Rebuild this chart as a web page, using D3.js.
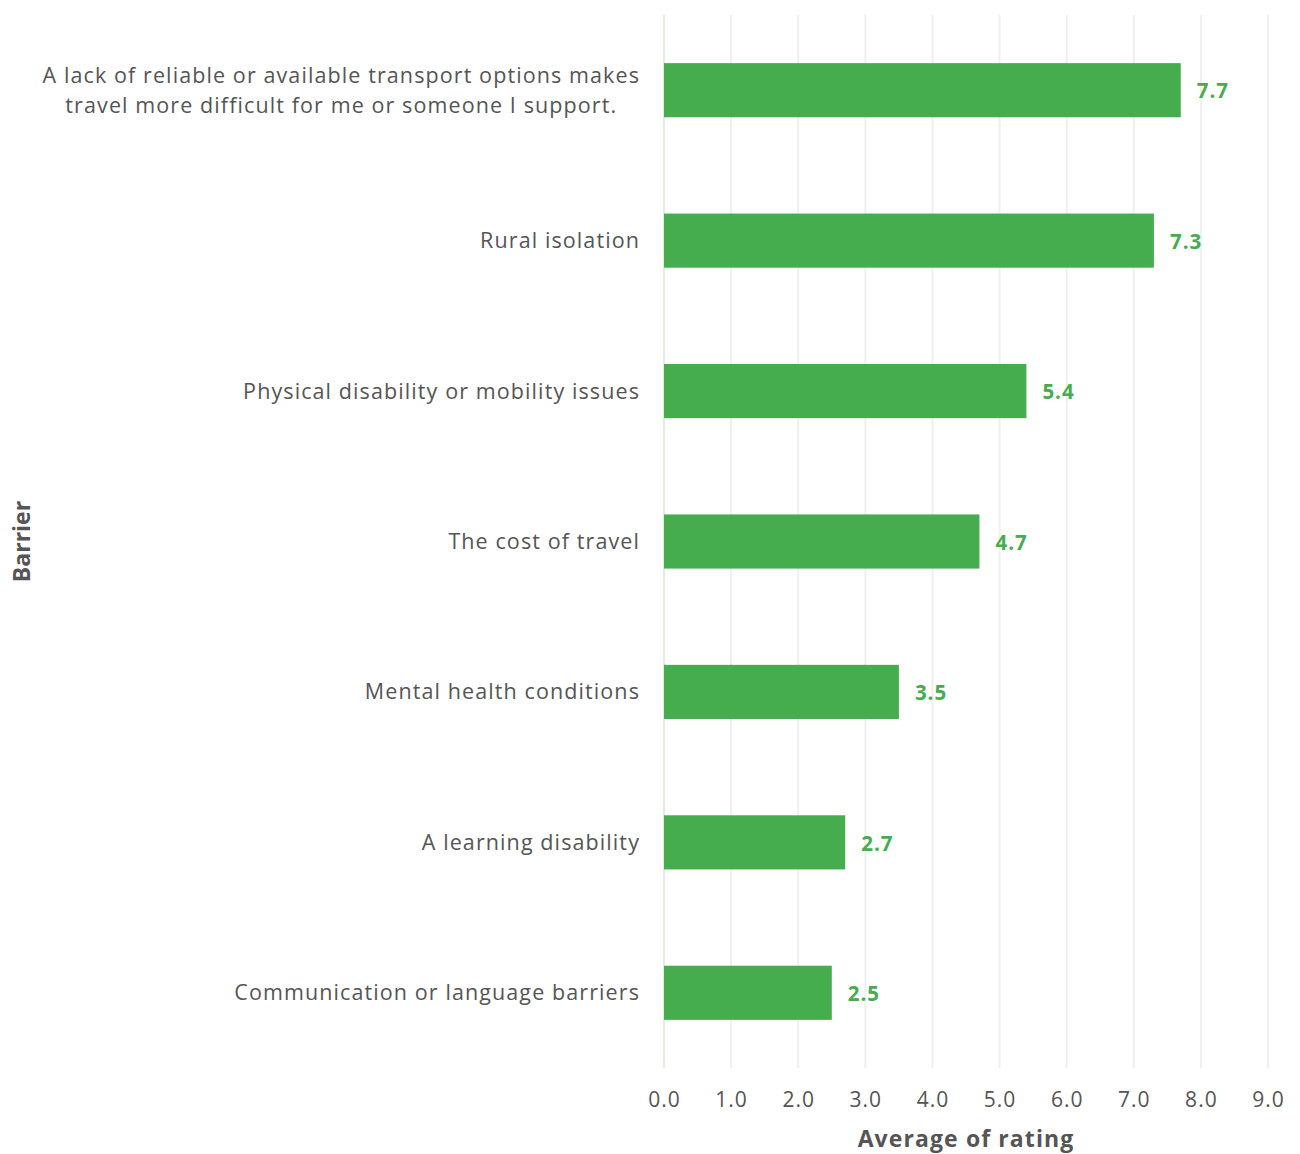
<!DOCTYPE html>
<html>
<head>
<meta charset="utf-8">
<script src="https://cdn.jsdelivr.net/npm/d3@7"></script>
<style>
  html, body { margin: 0; padding: 0; background: #fff; }
  svg { display: block; font-family: "Open Sans", Lato, sans-serif; }
</style>
</head>
<body>
<svg id="chart" width="1300" height="1154"></svg>
<script>
// Barriers to travel, average rating (0–10 scale)
const barriers = [
  ["A lack of reliable or available transport options makes", "travel more difficult for me or someone I support."],
  ["Rural isolation"],
  ["Physical disability or mobility issues"],
  ["The cost of travel"],
  ["Mental health conditions"],
  ["A learning disability"],
  ["Communication or language barriers"]
];
const ratings = [7.7, 7.3, 5.4, 4.7, 3.5, 2.7, 2.5];
const xTicks = [0, 1, 2, 3, 4, 5, 6, 7, 8, 9];

const svg = d3.select("#chart");
const margin = { left: 664, right: 32, top: 15, bottom: 86 };
const W = 1300, H = 1154;
const green = "#46ad4e";
const textGrey = "#555555";

const x = d3.scaleLinear().domain([0, 9]).range([margin.left, W - margin.right]);
const y = d3.scaleBand()
  .domain(d3.range(barriers.length))
  .range([margin.top, H - margin.bottom])
  .paddingInner(0.64)
  .paddingOuter(0.32);

// vertical gridlines
svg.append("g")
  .selectAll("line")
  .data(xTicks)
  .join("line")
  .attr("x1", d => x(d)).attr("x2", d => x(d))
  .attr("y1", margin.top).attr("y2", H - margin.bottom)
  .attr("stroke", d => d === 0 ? "#dff0df" : "#efefef")
  .attr("stroke-width", 2);

// x axis tick labels
const xAxis = d3.axisBottom(x).tickValues(xTicks).tickFormat(d3.format(".1f")).tickSize(0).tickPadding(0);
const gx = svg.append("g").attr("transform", `translate(0,${H - margin.bottom + 24})`).call(xAxis);
gx.select(".domain").remove();
gx.selectAll("text")
  .attr("font-size", 21)
  .attr("fill", textGrey)
  .attr("font-family", "'Open Sans', sans-serif")
  .attr("letter-spacing", 1)
  .attr("dy", "0.71em");

// bars
svg.append("g")
  .selectAll("rect")
  .data(ratings)
  .join("rect")
  .attr("x", x(0))
  .attr("y", (d, i) => y(i))
  .attr("width", d => x(d) - x(0))
  .attr("height", y.bandwidth())
  .attr("fill", green);

// value labels
svg.append("g")
  .selectAll("text")
  .data(ratings)
  .join("text")
  .attr("x", d => x(d) + 16)
  .attr("y", (d, i) => y(i) + y.bandwidth() / 2 + 1)
  .attr("dy", "0.35em")
  .attr("font-size", 20.5)
  .attr("font-weight", 700)
  .attr("letter-spacing", 1)
  .attr("fill", green)
  .text(d => d3.format(".1f")(d));

// category labels
const cat = svg.append("g")
  .selectAll("text")
  .data(barriers)
  .join("text")
  .attr("text-anchor", "middle")
  .attr("font-size", 21.5)
  .attr("letter-spacing", 1.1)
  .attr("fill", textGrey);

cat.each(function (lines, i) {
  const t = d3.select(this);
  const cy = y(i) + y.bandwidth() / 2;
  const lh = 30;
  const n = lines.length;
  lines.forEach((ln, k) => {
    t.append("tspan")
      .attr("x", 0)
      .attr("y", cy + (k - (n - 1) / 2) * lh)
      .attr("dy", "0.35em")
      .text(ln);
  });
});
// right-align each block while centring its lines within it
cat.each(function () {
  const t = d3.select(this);
  const bb = this.getBBox();
  t.selectAll("tspan").attr("x", 640 - bb.width / 2);
});

// axis titles
svg.append("text")
  .attr("x", (x(0) + x(9)) / 2)
  .attr("y", H - 7)
  .attr("text-anchor", "middle")
  .attr("font-size", 23)
  .attr("font-weight", 700)
  .attr("letter-spacing", 1.1)
  .attr("fill", textGrey)
  .text("Average of rating");

svg.append("text")
  .attr("transform", `translate(30,${(margin.top + H - margin.bottom) / 2}) rotate(-90)`)
  .attr("text-anchor", "middle")
  .attr("font-size", 23)
  .attr("font-weight", 700)
  .attr("fill", textGrey)
  .text("Barrier");
</script>
</body>
</html>
